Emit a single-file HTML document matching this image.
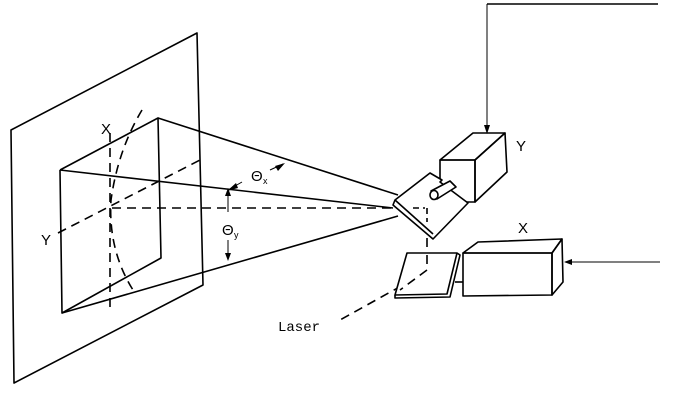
<!DOCTYPE html>
<html><head><style>html,body{margin:0;padding:0;background:#fff}svg{display:block}</style></head><body>
<svg width="681" height="419" viewBox="0 0 681 419" xmlns="http://www.w3.org/2000/svg">
<g fill="none" stroke="#000" stroke-width="1.6" stroke-linejoin="round">
<polygon points="11,130 197,33 203,285 14,383"/>
<polyline points="60,170 158,118 161,258 62,313 60,170"/>
<line x1="158" y1="118" x2="398" y2="195"/>
<line x1="60" y1="170" x2="393" y2="208"/>
<polyline points="62,313 135,292 398,216"/>
<g stroke-dasharray="9,6">
<line x1="110" y1="133" x2="110" y2="312"/>
<line x1="58" y1="233" x2="200" y2="160"/>
<line x1="112" y1="208" x2="425" y2="208"/>
<path d="M142,110 Q118,150 111,200 Q108,250 133,290"/>
<line x1="427" y1="208" x2="427" y2="270"/>
<polyline points="427,270 412,280 340,320"/>
</g>
<line x1="228" y1="190" x2="228" y2="212" stroke-width="1"/>
<line x1="228" y1="240" x2="228" y2="258" stroke-width="1"/>
<line x1="242" y1="182" x2="228" y2="190" stroke-width="1"/>
<line x1="270" y1="170" x2="283" y2="164" stroke-width="1"/>
<polygon points="440,160 475,160 475,202 440,202"/>
<polygon points="440,160 473,133 505,133 475,160"/>
<polygon points="505,133 507,172 475,202 475,160"/>
<line x1="487" y1="4" x2="487" y2="133" stroke-width="1"/>
<line x1="487" y1="4" x2="658" y2="4" stroke-width="1.4"/>
<polygon points="395,200 430,173 442,180 440,182 468,203 433,239 393,205" fill="#fff"/>
<line x1="395" y1="200" x2="433" y2="234"/>
<line x1="413" y1="208" x2="425" y2="208" stroke-dasharray="6,4"/>
<line x1="427" y1="208" x2="427" y2="222" stroke-dasharray="6,4"/>
<polygon points="431,191 450,181 456,187 437,199" fill="#fff"/>
<ellipse cx="434" cy="195" rx="4" ry="4.5" fill="#fff"/>
<polygon points="463,253 552,253 552,295 463,296"/>
<polygon points="463,253 478,242 562,239 552,253"/>
<polygon points="562,239 563,282 552,295 552,253"/>
<line x1="565" y1="262" x2="660" y2="262" stroke-width="1"/>
<polygon points="407,253 457,253 447,294 395,295" fill="#fff"/>
<polyline points="457,253 460,255 450,297 395,298 395,295"/>
<line x1="455" y1="282" x2="463" y2="282"/>
<g stroke-dasharray="9,6"><polyline points="427,255 427,270 400,290"/></g>
</g>
<g fill="#000">
<polygon points="228,188 225,196 231,196"/>
<polygon points="228,261 225,253 231,253"/>
<polygon points="227,191 236,183 238,188"/>
<polygon points="285,163 275,166 278,171"/>
<polygon points="487,134 484,125 490,125"/>
<polygon points="564,262 572,259 572,265"/>
</g>
<g font-family="Liberation Sans, sans-serif" font-size="15" fill="#000">
<text x="101" y="134">X</text>
<text x="41" y="245">Y</text>
<text x="516" y="151">Y</text>
<text x="518" y="233">X</text>
<text x="251" y="181">Θ</text><text x="263" y="184" font-size="9">x</text>
<text x="222" y="235">Θ</text><text x="234" y="238" font-size="9">y</text>
<text x="278" y="331" font-family="Liberation Mono, monospace" font-size="14">Laser</text>
</g>
</svg>
</body></html>
